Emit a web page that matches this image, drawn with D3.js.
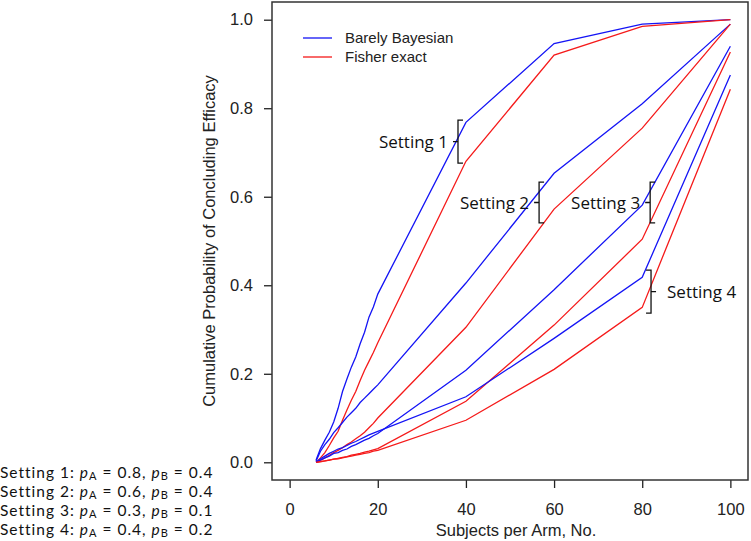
<!DOCTYPE html>
<html>
<head>
<meta charset="utf-8">
<script src="https://cdn.jsdelivr.net/npm/d3@7"></script>
<style>
  html, body { margin: 0; padding: 0; background: #fff; }
  svg { display: block; }
</style>
</head>
<body>
<svg id="chart" width="751" height="541"></svg>
<script>
// ---- data ----
const subjects = [6,7,8,9,10,11,12,13,14,15,16,17,18,19,20,40,60,80,100];
const bayes1  = [0.005,0.031,0.050,0.068,0.091,0.122,0.160,0.188,0.215,0.238,0.268,0.294,0.328,0.351,0.380,0.768,0.946,0.990,1.000];
const fisher1 = [0.000,0.010,0.022,0.038,0.055,0.070,0.095,0.118,0.140,0.160,0.185,0.208,0.228,0.248,0.270,0.680,0.920,0.985,1.000];
const bayes2  = [0.003,0.025,0.040,0.052,0.067,0.078,0.090,0.102,0.112,0.122,0.135,0.145,0.155,0.165,0.175,0.405,0.653,0.810,0.990];
const fisher2 = [0.000,0.005,0.010,0.016,0.022,0.027,0.033,0.040,0.046,0.053,0.060,0.068,0.078,0.088,0.100,0.305,0.572,0.755,0.990];
const bayes3  = [0.000,0.005,0.010,0.014,0.020,0.022,0.027,0.030,0.036,0.040,0.045,0.050,0.054,0.060,0.065,0.208,0.390,0.581,0.940];
const fisher3 = [0.000,0.001,0.003,0.005,0.007,0.009,0.011,0.013,0.016,0.018,0.020,0.023,0.025,0.028,0.031,0.138,0.310,0.504,0.927];
const bayes4  = [0.000,0.008,0.014,0.020,0.025,0.030,0.033,0.038,0.043,0.047,0.052,0.057,0.062,0.066,0.070,0.148,0.280,0.418,0.875];
const fisher4 = [0.000,0.002,0.003,0.005,0.007,0.008,0.010,0.012,0.014,0.016,0.018,0.020,0.022,0.025,0.027,0.095,0.210,0.350,0.843];
const xTicks = [0,20,40,60,80,100];
const yTicks = [0,0.2,0.4,0.6,0.8,1.0];
const legendLabels = ["Barely Bayesian","Fisher exact"];
const settingNames = ["Setting 1","Setting 2","Setting 3","Setting 4"];
const pA = ["0.8","0.6","0.3","0.4"];
const pB = ["0.4","0.4","0.1","0.2"];
// bracket annotations in data units: x position, top value, bottom value
const bracketX   = [38.2, 56.6, 81.8, 82.0];
const bracketTop = [0.773, 0.633, 0.633, 0.434];
const bracketBot = [0.676, 0.541, 0.541, 0.337];

const BLUE = "#1414f5", RED = "#f51a1a";

const svg = d3.select("#chart");
const L = 272, R = 748, T = 2, B = 480;
const x = d3.scaleLinear().domain([-4,104]).range([L,R]);
const y = d3.scaleLinear().domain([-0.04,1.04]).range([B,T]);

const font = "'Liberation Sans', Arial, sans-serif";

// axes
const xAxis = svg.append("g").attr("transform",`translate(0,${B})`)
  .call(d3.axisBottom(x).tickValues(xTicks).tickSize(8).tickPadding(15).tickFormat(d3.format("d")));
const yAxis = svg.append("g").attr("transform",`translate(${L},0)`)
  .call(d3.axisLeft(y).tickValues(yTicks).tickSize(8).tickPadding(11).tickFormat(d3.format(".1f")));
[xAxis,yAxis].forEach(g=>{
  g.select(".domain").remove();
  g.selectAll("line").attr("stroke","#222").attr("stroke-width",1.3);
  g.selectAll("text").attr("font-family",font).attr("font-size",16.5).attr("fill","#222");
});

// box
svg.append("rect").attr("x",L).attr("y",T).attr("width",R-L).attr("height",B-T)
  .attr("fill","none").attr("stroke","#333").attr("stroke-width",1.5);

// axis titles
svg.append("text").attr("x",(L+R)/2+6).attr("y",536).attr("text-anchor","middle")
  .attr("font-family",font).attr("font-size",16.5).attr("fill","#222").text("Subjects per Arm, No.");
svg.append("text").attr("transform",`translate(215,${(T+B)/2}) rotate(-90)`).attr("text-anchor","middle")
  .attr("font-family",font).attr("font-size",16.5).attr("fill","#222").text("Cumulative Probability of Concluding Efficacy");

// lines
const line = d3.line().x((d,i)=>x(subjects[i])).y(d=>y(d));
const series = [[bayes1,BLUE],[fisher1,RED],[bayes2,BLUE],[fisher2,RED],[bayes3,BLUE],[fisher3,RED],[bayes4,BLUE],[fisher4,RED]];
series.forEach(([vals,col])=>{
  svg.append("path").attr("d",line(vals)).attr("fill","none").attr("stroke",col).attr("stroke-width",1.3);
});

// legend
[[legendLabels[0],BLUE,38],[legendLabels[1],RED,57]].forEach(([lab,col,yy])=>{
  svg.append("line").attr("x1",303).attr("x2",332).attr("y1",yy).attr("y2",yy).attr("stroke",col).attr("stroke-width",1.3);
  svg.append("text").attr("x",345).attr("y",yy).attr("dy","0.35em").attr("font-family",font).attr("font-size",15).attr("fill","#222").text(lab);
});

// brackets
const cfont = "'Open Sans', Lato, sans-serif";
const sides = [1,1,1,-1]; // 1: opens right, label left; -1: opens left, label right
settingNames.forEach((nm,k)=>{
  const xv = x(bracketX[k]), yTop = y(bracketTop[k]), yBot = y(bracketBot[k]);
  const s = sides[k], ym = (yTop+yBot)/2;
  svg.append("path").attr("stroke","#111").attr("stroke-width",1.3).attr("fill","none")
    .attr("d",`M${xv+5*s},${yTop}H${xv}V${yBot}H${xv+5*s}M${xv},${ym}H${xv-5*s}`);
  svg.append("text").attr("x", s>0 ? xv-10 : xv+16).attr("y",ym).attr("dy","0.36em")
    .attr("text-anchor", s>0 ? "end" : "start")
    .attr("font-family",cfont).attr("font-size",17).attr("fill","#111").text(nm);
});

// bottom-left notes
settingNames.forEach((nm,k)=>{
  const t = svg.append("text").attr("x",0).attr("y",473+19*k).attr("dy","0.35em")
    .attr("font-family","Lato, 'Open Sans', sans-serif").attr("font-size",15.5)
    .attr("letter-spacing",1.0).attr("fill","#111");
  t.append("tspan").text(nm+": ");
  t.append("tspan").attr("font-style","italic").text("p");
  t.append("tspan").attr("font-size",11).attr("dy",2).text("A");
  t.append("tspan").attr("dy",-2).text(" = "+pA[k]+", ");
  t.append("tspan").attr("font-style","italic").text("p");
  t.append("tspan").attr("font-size",11).attr("dy",2).text("B");
  t.append("tspan").attr("dy",-2).text(" = "+pB[k]);
});
</script>
</body>
</html>
